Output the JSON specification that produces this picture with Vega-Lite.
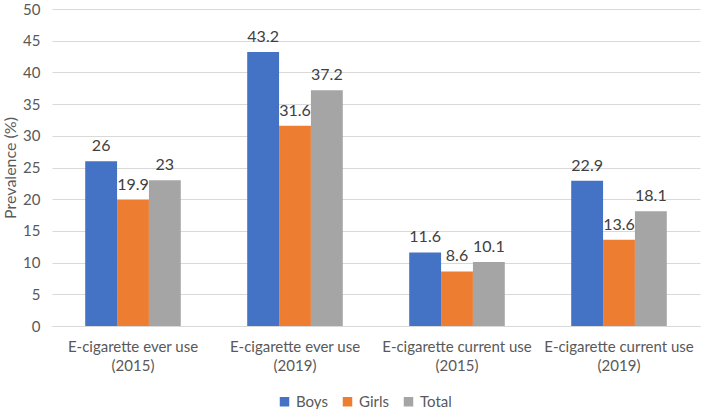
{
  "$schema": "https://vega.github.io/schema/vega-lite/v6.json",
  "width": 648,
  "height": 317,
  "autosize": {"type": "none"},
  "padding": {"left": 52, "top": 9, "right": 9, "bottom": 83},
  "background": "white",
  "config": {
    "font": "Lato",
    "view": {"stroke": null},
    "axis": {"labelColor": "#595959", "titleColor": "#595959", "labelFontSize": 15, "titleFontSize": 16, "titleFontWeight": "normal"}
  },
  "data": {
    "values": [
      {"cat": "E-cigarette ever use (2015)", "sex": "Boys", "v": 26},
      {"cat": "E-cigarette ever use (2015)", "sex": "Girls", "v": 19.9},
      {"cat": "E-cigarette ever use (2015)", "sex": "Total", "v": 23},
      {"cat": "E-cigarette ever use (2019)", "sex": "Boys", "v": 43.2},
      {"cat": "E-cigarette ever use (2019)", "sex": "Girls", "v": 31.6},
      {"cat": "E-cigarette ever use (2019)", "sex": "Total", "v": 37.2},
      {"cat": "E-cigarette current use (2015)", "sex": "Boys", "v": 11.6},
      {"cat": "E-cigarette current use (2015)", "sex": "Girls", "v": 8.6},
      {"cat": "E-cigarette current use (2015)", "sex": "Total", "v": 10.1},
      {"cat": "E-cigarette current use (2019)", "sex": "Boys", "v": 22.9},
      {"cat": "E-cigarette current use (2019)", "sex": "Girls", "v": 13.6},
      {"cat": "E-cigarette current use (2019)", "sex": "Total", "v": 18.1}
    ]
  },
  "encoding": {
    "x": {
      "field": "cat", "type": "nominal", "sort": null,
      "scale": {"paddingInner": 0.41, "paddingOuter": 0.205},
      "axis": {
        "title": null, "labelAngle": 0, "ticks": false, "domainColor": "#d9d9d9",
        "labelPadding": 13, "labelLineHeight": 19,
        "labelExpr": "[slice(datum.label, 0, indexof(datum.label, ' (')), slice(datum.label, indexof(datum.label, ' (') + 1)]"
      }
    },
    "xOffset": {"field": "sex", "type": "nominal", "sort": ["Boys", "Girls", "Total"], "scale": {"paddingInner": 0, "paddingOuter": 0}},
    "y": {
      "field": "v", "type": "quantitative",
      "scale": {"domain": [0, 50], "nice": false},
      "axis": {"title": "Prevalence (%)", "values": [0, 5, 10, 15, 20, 25, 30, 35, 40, 45, 50], "labelOverlap": false, "domain": false, "ticks": false, "gridColor": "#d9d9d9", "labelPadding": 12, "titlePadding": 4}
    }
  },
  "layer": [
    {
      "mark": {"type": "bar"},
      "encoding": {
        "color": {
          "field": "sex", "type": "nominal",
          "scale": {"domain": ["Boys", "Girls", "Total"], "range": ["#4472C4", "#ED7D31", "#A5A5A5"]},
          "legend": {
            "title": null, "orient": "none", "direction": "horizontal",
            "legendX": 225, "legendY": 385, "symbolType": "square", "symbolSize": 90,
            "symbolStrokeWidth": 0, "labelFontSize": 15, "labelColor": "#595959", "columnPadding": 12, "symbolOffset": 0
          }
        }
      }
    },
    {
      "mark": {"type": "text", "dy": -15, "fontSize": 16, "color": "#404040"},
      "encoding": {"text": {"field": "v", "type": "quantitative"}}
    }
  ]
}
